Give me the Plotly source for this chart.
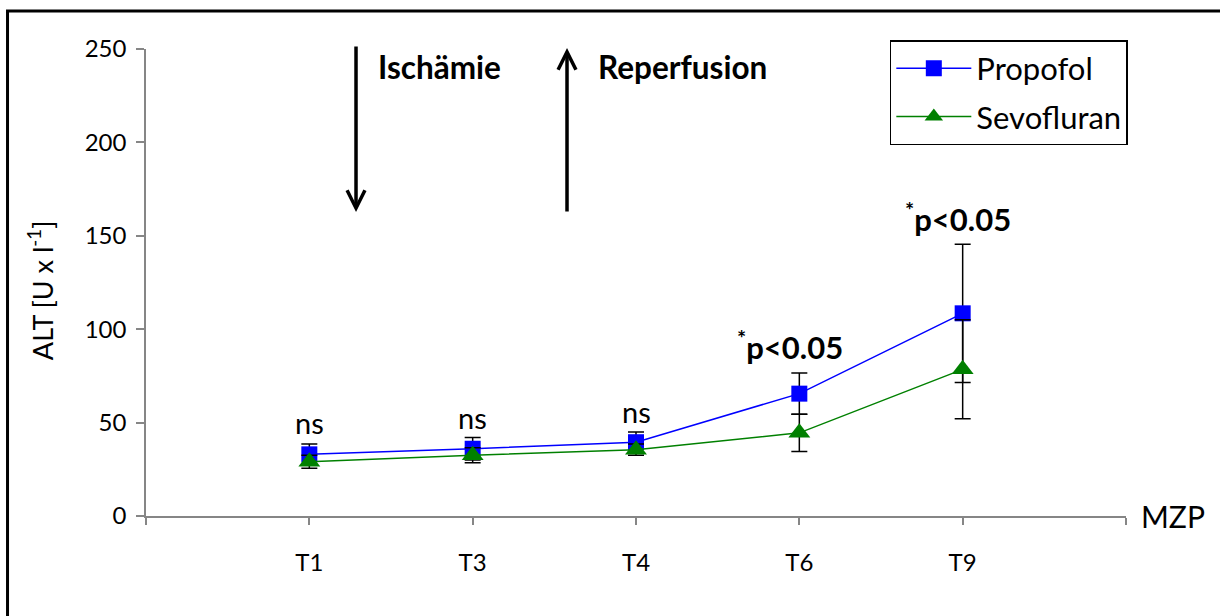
import plotly.graph_objects as go

categories = ["T1", "T3", "T4", "T6", "T9"]
propofol = [33, 36, 39.5, 65.5, 108.5]
propofol_err = [5.5, 6, 5.5, 11, 37]
sevofluran = [29, 32.5, 35.5, 44.5, 78.5]
sevofluran_err = [3.5, 4, 3, 10, 26.5]
ns_labels = ["ns", "ns", "ns"]
ns_y = [50, 53, 56.2]
sig_x = [3.94, 4.97]
sig_y = [91.5, 160]

FONT = "Lato"
xpos = list(range(1, len(categories) + 1))

fig = go.Figure()
fig.add_trace(go.Scatter(
    x=xpos, y=propofol, name="Propofol", mode="lines+markers",
    line=dict(color="#0000FF", width=1.5),
    marker=dict(symbol="square", size=16, color="#0000FF"),
    error_y=dict(type="data", array=propofol_err, color="black", thickness=1.5, width=8),
    legendgroup="a",
))
fig.add_trace(go.Scatter(
    x=xpos, y=sevofluran, name="Sevofluran", mode="lines+markers",
    line=dict(color="#008000", width=1.5),
    marker=dict(symbol="triangle-up", size=19, color="#008000"),
    error_y=dict(type="data", array=sevofluran_err, color="black", thickness=1.5, width=8),
    legendgroup="b",
))

annotations = []
for i, (lab, yv) in enumerate(zip(ns_labels, ns_y)):
    annotations.append(dict(x=xpos[i], y=yv, xref="x", yref="y", text=lab, showarrow=False,
                            font=dict(family=FONT, size=29, color="black"), yanchor="middle"))
for xv, yv in zip(sig_x, sig_y):
    annotations.append(dict(x=xv, y=yv, xref="x", yref="y", text="<b><sup>*</sup>p&lt;0.05</b>",
                            showarrow=False, font=dict(family=FONT, size=31, color="black"),
                            yanchor="middle"))

# arrows
annotations.append(dict(x=0.2143, y=0.651, xref="paper", yref="paper", text="", showarrow=True,
                        ax=0, ay=-167, arrowhead=5, arrowwidth=3.5, arrowsize=1, arrowcolor="black",
                        standoff=0, startstandoff=0))
annotations.append(dict(x=0.4296, y=1.002, xref="paper", yref="paper", text="", showarrow=True,
                        ax=0, ay=165, arrowhead=5, arrowwidth=3.5, arrowsize=1, arrowcolor="black",
                        standoff=0, startstandoff=0))
annotations.append(dict(x=0.2347, y=0.9615, xref="paper", yref="paper", text="<b>Ischämie</b>",
                        showarrow=False, xanchor="left", yanchor="middle",
                        font=dict(family=FONT, size=31.5, color="black")))
annotations.append(dict(x=0.4592, y=0.9615, xref="paper", yref="paper", text="<b>Reperfusion</b>",
                        showarrow=False, xanchor="left", yanchor="middle",
                        font=dict(family=FONT, size=31.5, color="black")))
annotations.append(dict(x=1.013, y=0.0, xref="paper", yref="paper", text="MZP",
                        showarrow=False, xanchor="left", yanchor="middle",
                        font=dict(family=FONT, size=30, color="black")))
annotations.append(dict(x=-0.108, y=0.484, xref="paper", yref="paper", text="ALT [U x l<sup>-1</sup>]",
                        showarrow=False, textangle=-90, xanchor="center", yanchor="middle",
                        font=dict(family=FONT, size=27, color="black")))

fig.update_layout(
    width=1220, height=616,
    margin=dict(l=146, r=94, t=49, b=100),
    paper_bgcolor="white", plot_bgcolor="white",
    font=dict(family=FONT, color="black"),
    showlegend=True,
    legend=dict(x=0.759, y=1.019, xanchor="left", yanchor="top",
                bordercolor="black", borderwidth=1.5, bgcolor="white",
                font=dict(family=FONT, size=31, color="black"),
                traceorder="grouped", tracegroupgap=5, itemwidth=75),
    xaxis=dict(range=[0, 6], tickmode="array", tickvals=[0] + xpos + [6],
               ticktext=[""] + categories + [""], showgrid=False, zeroline=False,
               showline=True, linecolor="#868686", linewidth=1.5,
               ticks="outside", ticklen=7, tickcolor="#868686", tickwidth=1.5,
               ticklabelstandoff=17, tickfont=dict(family=FONT, size=24, color="black")),
    yaxis=dict(range=[0, 250], tickvals=[0, 50, 100, 150, 200, 250], showgrid=False,
               zeroline=False, showline=True, linecolor="#868686", linewidth=1.5,
               ticks="outside", ticklen=8, tickcolor="#868686", tickwidth=1.5,
               ticklabelstandoff=5,
               tickfont=dict(family=FONT, size=24, color="black")),
    annotations=annotations,
    shapes=[dict(type="rect", xref="paper", yref="paper", x0=-0.1413, y0=-0.23, x1=1.12,
                 y1=1.0814, line=dict(color="black", width=3), fillcolor="rgba(0,0,0,0)",
                 layer="below")],
)

fig.write_html("out.html")
